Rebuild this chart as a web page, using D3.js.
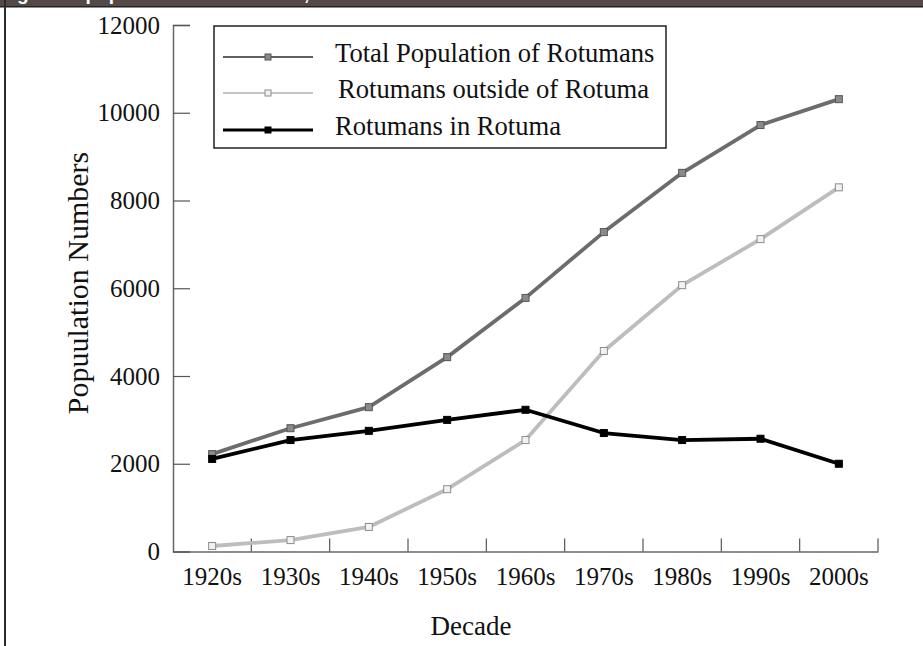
<!DOCTYPE html>
<html lang="en">
<head>
<meta charset="UTF-8">
<title>Rotuman population</title>
<script src="https://d3js.org/d3.v7.min.js"></script>
<style>
  body { margin: 0; background: #fff; }
  svg { display: block; font-family: "Liberation Serif", "Times New Roman", serif; }
</style>
</head>
<body>
<svg id="chart" width="923" height="646"></svg>
<script>
// data
const decades = ["1920s", "1930s", "1940s", "1950s", "1960s", "1970s", "1980s", "1990s", "2000s"];
const totalPop = [2220, 2810, 3290, 4430, 5780, 7280, 8630, 9720, 10310];
const outsidePop = [125, 260, 560, 1420, 2540, 4570, 6070, 7120, 8300];
const insidePop = [2110, 2540, 2750, 3000, 3230, 2700, 2540, 2570, 2000];
const yTicks = [0, 2000, 4000, 6000, 8000, 10000, 12000];

const series = [
  { name: "Total Population of Rotumans", values: totalPop, line: "#6c6c6c", fill: "#8a8a8a", mstroke: "#555", legLine: "#2a2a2a", legW: 1.6 },
  { name: "Rotumans outside of Rotuma", values: outsidePop, line: "#bdbdbd", fill: "#f2f2f2", mstroke: "#8c8c8c", legLine: "#b0b0b0", legW: 1.6 },
  { name: "Rotumans in Rotuma", values: insidePop, line: "#000", fill: "#000", mstroke: "#000", legLine: "#000", legW: 3.2 }
];

const svg = d3.select("#chart");

// frame bits: dark banner on top (its caption is cropped off), dark rule on the left
svg.append("clipPath").attr("id", "bannerClip")
  .append("rect").attr("x", 0).attr("y", 0).attr("width", 923).attr("height", 6);
svg.append("rect").attr("x", 0).attr("y", 0).attr("width", 923).attr("height", 6).attr("fill", "#534a47");
svg.append("rect").attr("x", 0).attr("y", 6).attr("width", 923).attr("height", 1.5).attr("fill", "#222");
svg.append("text")
  .attr("clip-path", "url(#bannerClip)")
  .attr("x", 0).attr("y", -0.5)
  .attr("font-family", "Liberation Sans, Arial, sans-serif")
  .attr("font-weight", "bold").attr("font-size", 19).attr("fill", "#fff")
  .text("Figure 1: population of Rotumans, 1920s–2000s");
svg.append("rect").attr("x", 4).attr("y", 0).attr("width", 2).attr("height", 646).attr("fill", "#2b2b2b");

const x = d3.scaleBand().domain(decades).range([173, 878]).padding(0);
const y = d3.scaleLinear().domain([0, 12000]).range([551.5, 25]);
const cx = d => x(d) + x.bandwidth() / 2;

// y axis, ticks pointing inward
const yAxis = svg.append("g")
  .attr("transform", "translate(173,0)")
  .call(d3.axisLeft(y).tickValues(yTicks).tickSize(-17).tickPadding(13).tickFormat(d3.format("d")));
yAxis.select(".domain").attr("stroke", "#666").attr("stroke-width", 1.5);
yAxis.selectAll(".tick line").attr("stroke", "#555").attr("stroke-width", 1.2);
yAxis.selectAll("text").attr("font-family", "Liberation Serif, serif").attr("font-size", 25).attr("fill", "#111");

// x axis, labels at band centres, ticks on band edges
const xAxis = svg.append("g")
  .attr("transform", "translate(0,551.5)")
  .call(d3.axisBottom(x).tickSize(0).tickPadding(0));
xAxis.select(".domain").attr("stroke", "#666").attr("stroke-width", 1.5);
xAxis.selectAll("text")
  .attr("y", 33).attr("dy", 0)
  .attr("font-family", "Liberation Serif, serif").attr("font-size", 25).attr("fill", "#111");
xAxis.selectAll(".edge")
  .data(decades)
  .enter().append("line")
  .attr("x1", d => x(d) + x.bandwidth()).attr("x2", d => x(d) + x.bandwidth())
  .attr("y1", 0).attr("y2", -13)
  .attr("stroke", "#555").attr("stroke-width", 1.2);

// axis titles
svg.append("text")
  .attr("x", 471).attr("y", 635)
  .attr("text-anchor", "middle").attr("font-size", 27).attr("fill", "#111")
  .text("Decade");
svg.append("text")
  .attr("transform", "translate(88,283) rotate(-90)")
  .attr("text-anchor", "middle").attr("font-size", 30).attr("fill", "#111")
  .text("Popuulation Numbers");

// lines + square markers
const line = d3.line().x((v, i) => cx(decades[i])).y(v => y(v));

series.forEach(s => {
  svg.append("path")
    .attr("d", line(s.values))
    .attr("fill", "none")
    .attr("stroke", s.line)
    .attr("stroke-width", 3.8)
    .attr("stroke-linejoin", "round");
  svg.selectAll(null)
    .data(s.values)
    .enter().append("rect")
    .attr("x", (v, i) => cx(decades[i]) - 3.5)
    .attr("y", v => y(v) - 3.5)
    .attr("width", 7).attr("height", 7)
    .attr("fill", s.fill)
    .attr("stroke", s.mstroke)
    .attr("stroke-width", 1);
});

// legend
const leg = svg.append("g");
leg.append("rect")
  .attr("x", 214).attr("y", 26).attr("width", 452).attr("height", 122)
  .attr("fill", "#fff").attr("stroke", "#222").attr("stroke-width", 1.5);
const legRows = [57, 93, 130];
const legTextX = [335, 338, 335];
series.forEach((s, i) => {
  const g = leg.append("g").attr("transform", `translate(0,${legRows[i]})`);
  g.append("line").attr("x1", 223).attr("x2", 313).attr("y1", 0).attr("y2", 0)
    .attr("stroke", s.legLine).attr("stroke-width", s.legW);
  g.append("rect").attr("x", 265).attr("y", -3).attr("width", 6).attr("height", 6)
    .attr("fill", s.fill).attr("stroke", s.mstroke).attr("stroke-width", 1);
  g.append("text").attr("x", legTextX[i]).attr("y", 4.5)
    .attr("font-size", 26.6).attr("fill", "#111")
    .text(s.name);
});
</script>
</body>
</html>
